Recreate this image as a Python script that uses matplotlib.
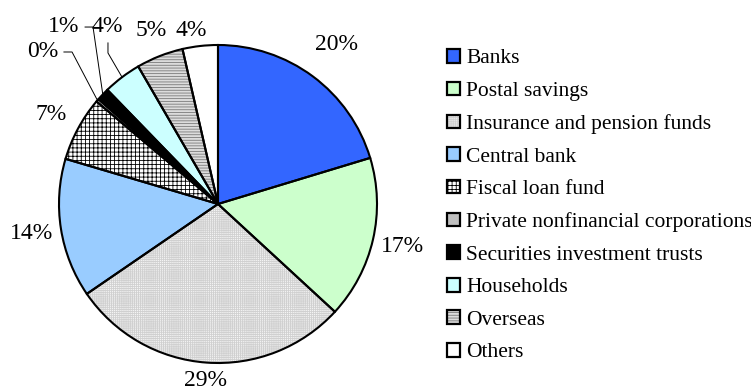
import numpy as np
import matplotlib
matplotlib.use("Agg")
import matplotlib.pyplot as plt
from matplotlib.patches import Patch

plt.rcParams['font.family'] = ['Liberation Serif', 'DejaVu Serif']
plt.rcParams['hatch.linewidth'] = 0.6

# holders of the debt, clockwise from 12 o'clock
holders = ["Banks", "Postal savings", "Insurance and pension funds", "Central bank",
           "Fiscal loan fund", "Private nonfinancial corporations",
           "Securities investment trusts", "Households", "Overseas", "Others"]
shares = [20.4, 16.6, 28.7, 14.2, 6.6, 0.3, 1.3, 3.9, 4.8, 3.6]
pct_labels = ["20%", "17%", "29%", "14%", "7%", "0%", "1%", "4%", "5%", "4%"]

# fill styles
faces = ["#3366ff", "#ccffcc", "#f4f4f4", "#99ccff", "white", "#c0c0c0",
         "black", "#ccffff", "#dcdcdc", "white"]
hatches = [None, None, "++++++++", None, "++++", None, None, None, "------", None]
hatch_cols = ["none", "none", "#d0d0d0", "none", "black", "none", "none", "none", "#7a7a7a", "none"]

W, H = 751, 392
fig = plt.figure(figsize=(W / 100, H / 100), dpi=100)
R = 159.0  # pie radius in pixels
cx, cy = 218.0, 204.0
ax = fig.add_axes([0, 0, 2 * cx / W, 2 * (H - cy) / H])

kw = dict(startangle=90, counterclock=False, radius=1.0)
wedges, _ = ax.pie(shares, colors=faces, wedgeprops=dict(linewidth=0), **kw)
hw, _ = ax.pie(shares, colors=["none"] * len(shares), wedgeprops=dict(linewidth=0), **kw)
for w, h, hc in zip(hw, hatches, hatch_cols):
    if h:
        w.set_hatch(h)
        w.set_edgecolor(hc)
    else:
        w.set_visible(False)
ew, _ = ax.pie(shares, colors=["none"] * len(shares),
               wedgeprops=dict(linewidth=1.5, edgecolor="black"), **kw)

ax.set_aspect("auto")
ax.set_xlim(-cx / R, cx / R)
ax.set_ylim(-(H - cy) / R, (H - cy) / R)
ax.axis("off")

fs = 17
# label placement: (angle override or None, radius)
place = [(None, 1.25), (None, 1.19), (None, 1.11), (None, 1.19), (None, 1.19),
         (139, 1.46), (131, 1.476), (122, 1.32), (111, 1.17), (98.8, 1.107)]
for w, lab, (ang, rr) in zip(ew, pct_labels, place):
    mid = 0.5 * (w.theta1 + w.theta2)
    a = np.deg2rad(mid if ang is None else ang)
    ax.text(rr * np.cos(a), rr * np.sin(a), lab, ha="center", va="center", fontsize=fs)

# leader lines for the small slices
def leader(w, elbow, end):
    mid = np.deg2rad(0.5 * (w.theta1 + w.theta2))
    xs = [np.cos(mid), elbow[0], end[0]]
    ys = [np.sin(mid), elbow[1], end[1]]
    ax.plot(xs, ys, color="black", lw=0.7, clip_on=False)

leader(ew[5], (-0.918, 0.956), (-0.969, 0.956))
leader(ew[6], (-0.786, 1.113), (-0.836, 1.113))
leader(ew[7], (-0.692, 0.95), (-0.692, 1.013))

# legend
handles = []
for f, h, hc in zip(faces, hatches, hatch_cols):
    parts = [Patch(facecolor=f, edgecolor="none", lw=0)]
    if h:
        parts.append(Patch(facecolor="none", hatch=h, edgecolor=hc, lw=0))
    parts.append(Patch(facecolor="none", edgecolor="black", lw=1.6))
    handles.append(tuple(parts))

fig.legend(handles, holders, loc="upper left", bbox_to_anchor=(447 / W, 1 - 49 / H),
           bbox_transform=fig.transFigure, frameon=False, fontsize=15.5,
           handlelength=0.6, handleheight=0.6, handletextpad=0.3,
           labelspacing=0.61, borderpad=0, borderaxespad=0)

fig.savefig("out.png", dpi=100)
